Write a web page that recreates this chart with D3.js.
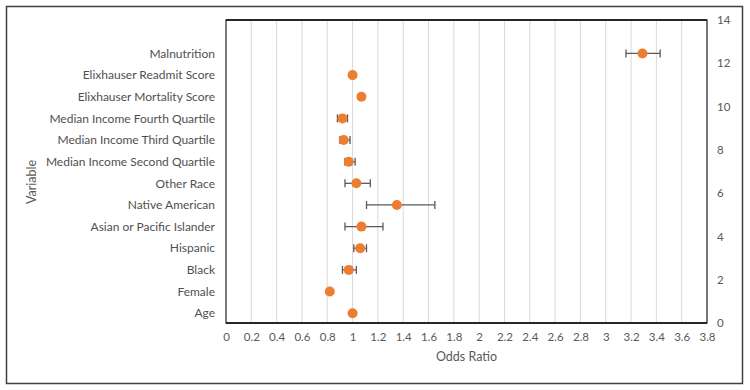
<!DOCTYPE html>
<html>
<head>
<meta charset="utf-8">
<script src="https://cdn.jsdelivr.net/npm/d3@7"></script>
<style>
  body { margin: 0; background: #fff; }
  text { font-family: Lato, "Open Sans", sans-serif; fill: #595959; }
</style>
</head>
<body>
<div id="chart"></div>
<script>
// chart data, bottom to top
let variables = ['Age', 'Female', 'Black', 'Hispanic', 'Asian or Pacific Islander', 'Native American',
    'Other Race', 'Median Income Second Quartile', 'Median Income Third Quartile',
    'Median Income Fourth Quartile', 'Elixhauser Mortality Score', 'Elixhauser Readmit Score', 'Malnutrition'];
let yPos = [0.5, 1.5, 2.5, 3.5, 4.5, 5.5, 6.5, 7.5, 8.5, 9.5, 10.5, 11.5, 12.5];
let oddsRatio = [1.00, 0.82, 0.97, 1.06, 1.07, 1.35, 1.03, 0.97, 0.93, 0.92, 1.07, 1.00, 3.29];
let ciLow = [1.00, 0.82, 0.92, 1.01, 0.94, 1.11, 0.94, 0.94, 0.90, 0.88, 1.07, 1.00, 3.16];
let ciHigh = [1.00, 0.82, 1.03, 1.11, 1.24, 1.65, 1.14, 1.02, 0.98, 0.96, 1.07, 1.00, 3.43];
let xTicks = d3.range(0, 20).map(i => +(i * 0.2).toFixed(1));
let yTicks = [0, 2, 4, 6, 8, 10, 12, 14];

let width = 750,
    height = 390,
    margin = {left: 226, top: 20, right: 43, bottom: 67},
    plotW = width - margin.left - margin.right,
    plotH = height - margin.top - margin.bottom;

let svg = d3.select('#chart').append('svg')
    .attr('width', width)
    .attr('height', height);

// outer frame
svg.append('rect')
    .attr('x', 6.5).attr('y', 6.5)
    .attr('width', 736).attr('height', 377)
    .attr('fill', 'none')
    .attr('stroke', '#404040')
    .attr('stroke-width', 1.5);

let g = svg.append('g')
    .attr('transform', `translate(${margin.left}, ${margin.top})`);

let x = d3.scaleLinear().domain([0, 3.8]).range([0, plotW]);
let y = d3.scaleLinear().domain([0, 14]).range([plotH, 0]);
// markers sit a pixel below their nominal row
let rowY = i => y(yPos[i]) + 1;

// gridlines
g.append('g')
    .selectAll('line')
    .data(xTicks.slice(1))
    .join('line')
    .attr('x1', d => x(d)).attr('x2', d => x(d))
    .attr('y1', 0).attr('y2', plotH)
    .attr('stroke', '#d9d9d9')
    .attr('stroke-width', 1);

// plot box
g.append('rect')
    .attr('width', plotW).attr('height', plotH)
    .attr('fill', 'none')
    .attr('stroke', '#262626')
    .attr('stroke-width', 1.2);
g.append('line')
    .attr('x1', 0).attr('x2', plotW).attr('y1', 0).attr('y2', 0)
    .attr('stroke', '#262626').attr('stroke-width', 2.2);
g.append('line')
    .attr('x1', 0).attr('x2', plotW).attr('y1', plotH).attr('y2', plotH)
    .attr('stroke', '#262626').attr('stroke-width', 2.2);

// x axis
let xAxis = g.append('g')
    .attr('transform', `translate(0, ${plotH})`)
    .call(d3.axisBottom(x).tickValues(xTicks).tickSize(0).tickPadding(10).tickFormat(d => d3.format('~g')(d)));
xAxis.select('.domain').remove();
xAxis.selectAll('text').style('font-size', '11.5px').style('font-family', 'Lato, sans-serif').attr('fill', '#595959');

// right y axis
let yAxis = g.append('g')
    .attr('transform', `translate(${plotW}, 0)`)
    .call(d3.axisRight(y).tickValues(yTicks).tickSize(0).tickPadding(10));
yAxis.select('.domain').remove();
yAxis.selectAll('text').style('font-size', '11.5px').style('font-family', 'Lato, sans-serif').attr('fill', '#595959');

// category labels
g.append('g')
    .selectAll('text')
    .data(variables)
    .join('text')
    .attr('x', -11)
    .attr('y', (d, i) => rowY(i))
    .attr('dy', '0.35em')
    .attr('text-anchor', 'end')
    .style('font-size', '12px')
    .style('fill', '#505050')
    .text(d => d);

// error bars
let bars = g.append('g')
    .selectAll('g')
    .data(variables.map((v, i) => i).filter(i => ciHigh[i] > ciLow[i]))
    .join('g')
    .attr('stroke', '#595959')
    .attr('stroke-width', 1.3);
bars.append('line')
    .attr('x1', i => x(ciLow[i])).attr('x2', i => x(ciHigh[i]))
    .attr('y1', i => rowY(i)).attr('y2', i => rowY(i));
bars.append('line')
    .attr('x1', i => x(ciLow[i])).attr('x2', i => x(ciLow[i]))
    .attr('y1', i => rowY(i) - 4).attr('y2', i => rowY(i) + 4);
bars.append('line')
    .attr('x1', i => x(ciHigh[i])).attr('x2', i => x(ciHigh[i]))
    .attr('y1', i => rowY(i) - 4).attr('y2', i => rowY(i) + 4);

// points
g.append('g')
    .selectAll('circle')
    .data(oddsRatio)
    .join('circle')
    .attr('cx', d => x(d))
    .attr('cy', (d, i) => rowY(i))
    .attr('r', 5)
    .attr('fill', '#ed7d31');

// axis titles
svg.append('text')
    .attr('x', margin.left + plotW / 2)
    .attr('y', 361)
    .attr('text-anchor', 'middle')
    .style('font-size', '12.5px')
    .text('Odds Ratio');

svg.append('text')
    .attr('transform', 'translate(36, 182) rotate(-90)')
    .attr('text-anchor', 'middle')
    .style('font-size', '12.5px')
    .text('Variable');
</script>
</body>
</html>
